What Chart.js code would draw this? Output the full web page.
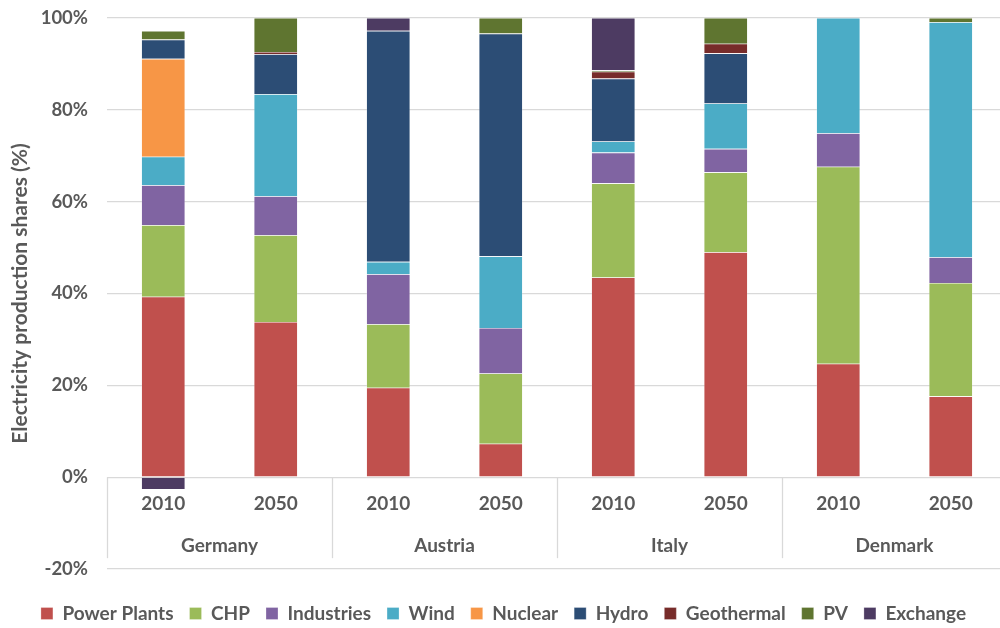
<!DOCTYPE html>
<html>
<head>
<meta charset="utf-8">
<script src="https://cdn.jsdelivr.net/npm/chart.js@4"></script>
<style>
  html, body { margin: 0; padding: 0; overflow: hidden; background: #fff; }
  canvas { display: block; }
</style>
</head>
<body>
<canvas id="chart" width="1007" height="633"></canvas>
<script>
// bars in order: DE 2010, DE 2050, AT 2010, AT 2050, IT 2010, IT 2050, DK 2010, DK 2050
const years = ['2010', '2050', '2010', '2050', '2010', '2050', '2010', '2050'];
const countries = ['Germany', 'Austria', 'Italy', 'Denmark'];
const yTicks = [-20, 0, 20, 40, 60, 80, 100];

const powerPlants = [39.3, 33.8, 19.5, 7.3, 43.5, 49.0, 24.7, 17.6];
const chp         = [15.6, 18.9, 13.8, 15.3, 20.5, 17.4, 42.9, 24.7];
const industries  = [8.7, 8.5, 10.9, 9.9, 6.7, 5.1, 7.3, 5.6];
const wind        = [6.2, 22.2, 2.7, 15.6, 2.4, 9.9, 25.1, 51.2];
const nuclear     = [21.3, 0, 0, 0, 0, 0, 0, 0];
const hydro       = [4.2, 8.7, 50.3, 48.5, 13.7, 10.9, 0, 0];
const geothermal  = [0, 0.5, 0, 0, 1.5, 2.1, 0, 0];
const pv          = [1.9, 7.4, 0, 3.4, 0.3, 5.6, 0, 0.9];
const exchange    = [-2.7, 0, 2.8, 0, 11.4, 0, 0, 0];

const textColor = '#595959';
const gridColor = '#d9d9d9';
const fontFamily = 'Lato, "Open Sans", sans-serif';

// draws the two-level category axis inside the -20..0 band
const groupLabels = {
  id: 'groupLabels',
  afterDraw(chart) {
    const { ctx, scales: { x, y } } = chart;
    const y0 = y.getPixelForValue(0);
    const half = (x.getPixelForValue(1) - x.getPixelForValue(0)) / 2;
    ctx.save();
    ctx.strokeStyle = gridColor;
    ctx.lineWidth = 1.3;
    for (let g = 0; g <= countries.length; g++) {
      const px = Math.round(x.getPixelForValue(g * 2) - half) + 0.5;
      ctx.beginPath();
      ctx.moveTo(px, y0);
      ctx.lineTo(px, y0 + 81);
      ctx.stroke();
    }
    ctx.fillStyle = textColor;
    ctx.font = 'bold 19px ' + fontFamily;
    ctx.textAlign = 'center';
    ctx.textBaseline = 'middle';
    years.forEach((yr, i) => ctx.fillText(yr, x.getPixelForValue(i), y0 + 27));
    countries.forEach((c, g) => {
      const cx = (x.getPixelForValue(g * 2) + x.getPixelForValue(g * 2 + 1)) / 2;
      ctx.fillText(c, cx, y0 + 69);
    });
    ctx.restore();
  }
};

const series = [
  ['Power Plants', powerPlants, '#C0504D'],
  ['CHP', chp, '#9BBB59'],
  ['Industries', industries, '#8064A2'],
  ['Wind', wind, '#4BACC6'],
  ['Nuclear', nuclear, '#F79646'],
  ['Hydro', hydro, '#2C4D75'],
  ['Geothermal', geothermal, '#772C2A'],
  ['PV', pv, '#5F7530'],
  ['Exchange', exchange, '#4D3B62']
];

const ctx = document.getElementById('chart').getContext('2d');
new Chart(ctx, {
  type: 'bar',
  data: {
    labels: years.map((yr, i) => countries[Math.floor(i / 2)] + ' ' + yr),
    datasets: series.map(([label, data, color]) => ({
      label,
      data,
      backgroundColor: color,
      borderColor: 'rgba(255,255,255,0.45)',
      borderWidth: 0.6,
      categoryPercentage: 1,
      barPercentage: 0.39
    }))
  },
  options: {
    responsive: false,
    animation: false,
    layout: { padding: { top: 18, left: 0, right: 0, bottom: 0 } },
    scales: {
      x: {
        stacked: true,
        grid: { display: false },
        border: { display: false },
        ticks: { display: false },
        afterFit(scale) { scale.height = 19; }
      },
      y: {
        stacked: true,
        min: -20,
        max: 100,
        afterBuildTicks(scale) { scale.ticks = yTicks.map(v => ({ value: v })); },
        grid: { color: gridColor, drawTicks: false, lineWidth: 1.3 },
        border: { display: false },
        ticks: {
          padding: 19,
          color: textColor,
          font: { family: fontFamily, size: 18.5, weight: 'bold' },
          callback: v => v + '%'
        },
        title: {
          display: true,
          text: 'Electricity production shares (%)',
          color: textColor,
          font: { family: fontFamily, size: 21, weight: 'bold' },
          padding: { top: 8, bottom: 0 }
        },
        afterFit(scale) {
          scale.width = 107;
          scale.paddingTop = 0;
          scale.paddingBottom = 0;
        }
      }
    },
    plugins: {
      legend: {
        position: 'bottom',
        labels: {
          boxWidth: 12,
          boxHeight: 12,
          padding: 16,
          color: textColor,
          font: { family: fontFamily, size: 19, weight: 'bold' }
        }
      },
      tooltip: { enabled: false }
    }
  },
  plugins: [groupLabels]
});
</script>
</body>
</html>
